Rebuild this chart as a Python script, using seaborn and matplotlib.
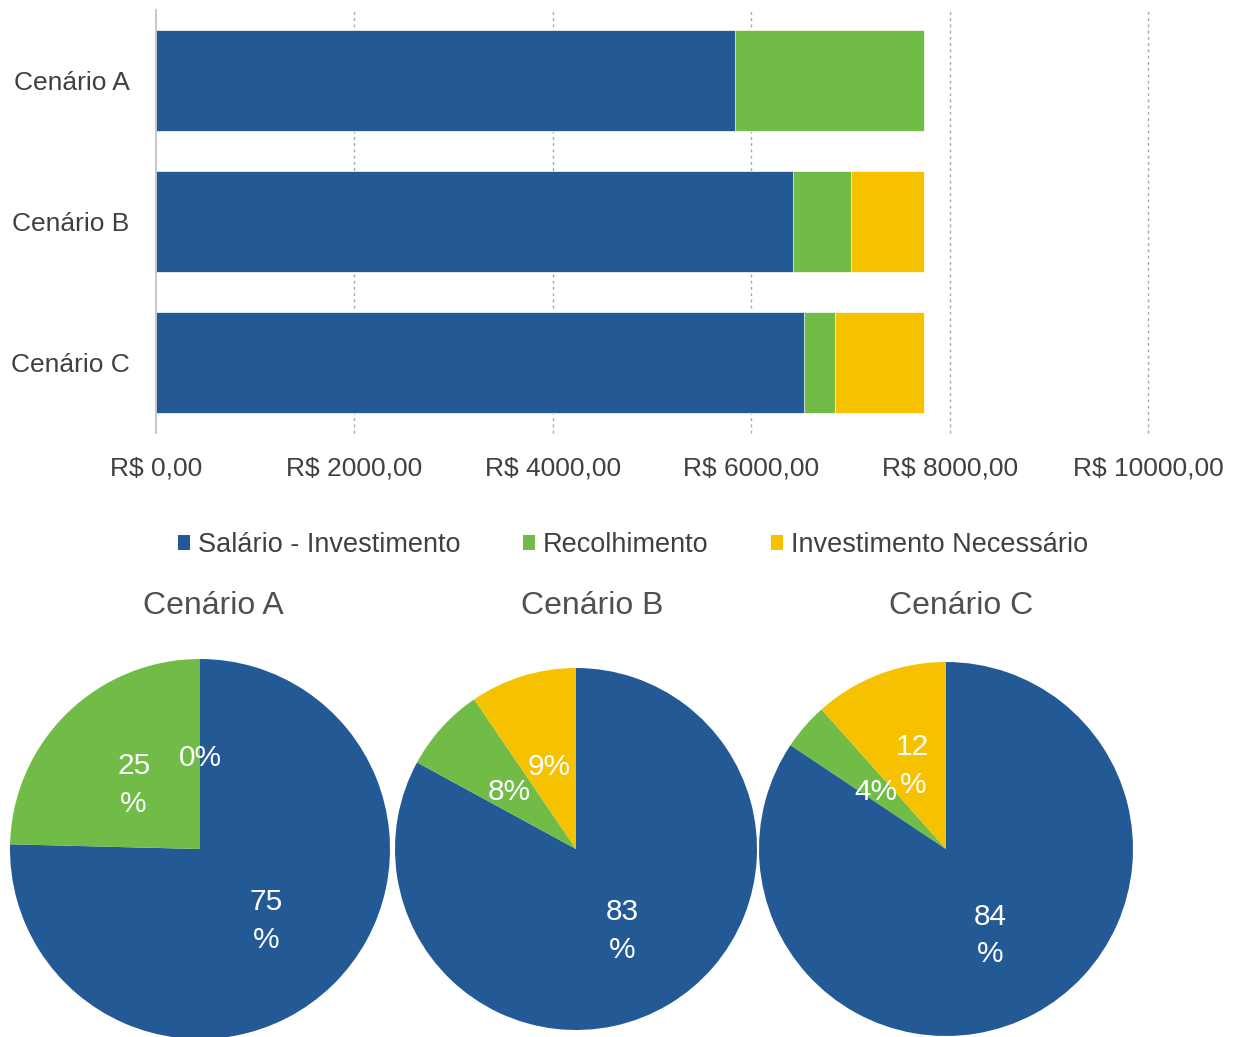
import matplotlib
matplotlib.use("Agg")
import matplotlib.pyplot as plt
from matplotlib.patches import Patch
import seaborn as sns
import pandas as pd
import numpy as np

# ---- data ----
cenarios = ["Cenário A", "Cenário B", "Cenário C"]
salario_investimento = [5837, 6421, 6532]
recolhimento = [1905, 585, 313]
investimento_necessario = [0, 736, 897]
series_names = ["Salário - Investimento", "Recolhimento", "Investimento Necessário"]
colors = ["#235A96", "#70BC47", "#F6C200"]
x_ticks = [0, 2000, 4000, 6000, 8000, 10000]
x_tick_labels = ["R$ 0,00", "R$ 2000,00", "R$ 4000,00", "R$ 6000,00", "R$ 8000,00", "R$ 10000,00"]
pie_labels = [
    ["75\n%", "25\n%", "0%"],
    ["83\n%", "8%", "9%"],
    ["84\n%", "4%", "12\n%"],
]

sns.set_theme(style="white")
plt.rcParams["font.family"] = ["Liberation Sans", "DejaVu Sans"]
TXT = "#404040"

W, H = 1235, 1037
fig = plt.figure(figsize=(W / 100, H / 100), dpi=100)

# ---- stacked horizontal bar chart ----
ax = fig.add_axes([156 / W, 1 - 433 / H, (1148 - 156) / W, 423 / H])
df = pd.DataFrame({
    "cenario": cenarios,
    "s1": salario_investimento,
    "s2": np.array(salario_investimento) + np.array(recolhimento),
    "s3": np.array(salario_investimento) + np.array(recolhimento) + np.array(investimento_necessario),
})
for col, c in zip(["s3", "s2", "s1"], [colors[2], colors[1], colors[0]]):
    sns.barplot(data=df, y="cenario", x=col, orient="h", color=c, width=0.71,
                edgecolor="white", linewidth=0.5, saturation=1, ax=ax, zorder=3)

ax.set_xlim(0, 10000)
ax.set_ylim(2.5, -0.5)
ax.set_xticks(x_ticks)
ax.set_xticklabels(x_tick_labels, fontsize=19, color=TXT)
ax.tick_params(axis="x", length=0, pad=17)
ax.tick_params(axis="y", length=0, pad=19, labelsize=19, labelcolor=TXT)
ax.set_xlabel("")
ax.set_ylabel("")
for s in ["top", "right", "bottom"]:
    ax.spines[s].set_visible(False)
ax.spines["left"].set_color("#BFBFBF")
ax.spines["left"].set_linewidth(1.2)
ax.spines["left"].set_zorder(4)
for xv in x_ticks[1:]:
    ax.axvline(xv, color="#A6A6A6", linestyle=(0, (2, 2.5)), linewidth=1.0, zorder=1,
               clip_on=False)
ax.grid(False)

# ---- legend ----
handles = [Patch(facecolor=c, edgecolor="none") for c in colors]
fig.legend(handles, series_names, loc="center", bbox_to_anchor=(633 / W, 1 - 545 / H),
           ncol=3, frameon=False, fontsize=19.5, labelcolor=TXT,
           handlelength=0.45, handleheight=0.45, handletextpad=0.3, columnspacing=2.3)

# ---- pies ----
pie_geom = [(200, 849, 190), (576, 849, 181), (946, 849, 187)]
title_x = [213, 592, 961]
for i, (cx, cy, r) in enumerate(pie_geom):
    pax = fig.add_axes([(cx - r) / W, 1 - (cy + r) / H, 2 * r / W, 2 * r / H])
    vals = [salario_investimento[i], recolhimento[i], investimento_necessario[i]]
    wedges, texts, autotexts = pax.pie(vals, colors=colors, startangle=90, counterclock=False,
                                       autopct="%1.0f%%", pctdistance=0.5, radius=1,
                                       wedgeprops=dict(linewidth=0))
    for t, lab in zip(autotexts, pie_labels[i]):
        t.set_text(lab)
        t.set_color("white")
        t.set_fontsize(21.5)
        t.set_linespacing(1.45)
        x0, y0 = t.get_position()
        t.set_position((x0, y0 - 4.0 / r))
    pax.set_xlim(-1, 1)
    pax.set_ylim(-1, 1)
    pax.set_aspect("equal")
    pax.axis("off")
    fig.text(title_x[i] / W, 1 - 606 / H, cenarios[i], ha="center", va="center",
             fontsize=23, color="#505050")

fig.savefig("out.png", dpi=100)
